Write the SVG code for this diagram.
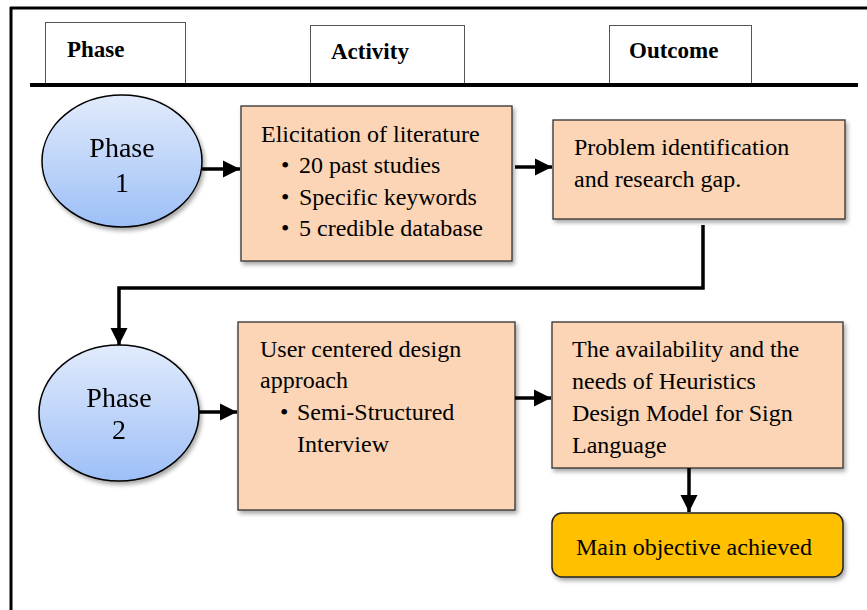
<svg xmlns="http://www.w3.org/2000/svg" width="867" height="610" viewBox="0 0 867 610">
<defs>
<linearGradient id="blue" x1="0" y1="0" x2="0" y2="1">
<stop offset="0" stop-color="#e1ebfc"/>
<stop offset="1" stop-color="#9dbff7"/>
</linearGradient>
<marker id="ah" viewBox="0 0 10 10" refX="10" refY="5" markerWidth="5" markerHeight="5" markerUnits="strokeWidth" orient="auto">
<path d="M0,0 L10,5 L0,10 z" fill="#000"/>
</marker>
<filter id="sh" x="-10%" y="-10%" width="125%" height="135%">
<feDropShadow dx="2" dy="3" stdDeviation="2" flood-color="#000" flood-opacity="0.35"/>
</filter>
</defs>
<style>
.t{font-family:"Liberation Serif","Times New Roman",serif;font-size:24px;fill:#000}
.h{font-family:"Liberation Serif","Times New Roman",serif;font-size:23px;font-weight:bold;fill:#000}
.ph{font-family:"Liberation Serif","Times New Roman",serif;font-size:28px;fill:#000;text-anchor:middle}
.hb{fill:#fff;stroke:#555;stroke-width:1}
.box{fill:#fbd5b5;stroke:#333;stroke-width:1.3}
.ell{fill:url(#blue);stroke:#000;stroke-width:1.5}
.con{fill:none;stroke:#000;stroke-width:3.5}
</style>
<rect width="867" height="610" fill="#fff"/>
<g id="frame">
<line x1="10" y1="8" x2="867" y2="8" stroke="#000" stroke-width="3"/>
<line x1="11" y1="7" x2="11" y2="610" stroke="#000" stroke-width="3"/>
</g>
<g id="header-phase">
<rect class="hb" x="45.5" y="22.5" width="140" height="62"/>
<text class="h" x="67" y="57">Phase</text>
</g>
<g id="header-activity">
<rect class="hb" x="310.5" y="25.5" width="154" height="59"/>
<text class="h" x="331" y="59">Activity</text>
</g>
<g id="header-outcome">
<rect class="hb" x="609.5" y="25.5" width="142" height="59"/>
<text class="h" x="629" y="58">Outcome</text>
</g>
<g id="header-line">
<line x1="30" y1="85" x2="858" y2="85" stroke="#000" stroke-width="4"/>
</g>
<g id="phase1" filter="url(#sh)">
<ellipse class="ell" cx="122" cy="161" rx="80" ry="66"/>
<text class="ph" x="122" y="157">Phase</text>
<text class="ph" x="122" y="192">1</text>
</g>
<g id="activity1">
<rect class="box" x="241" y="106" width="271" height="155" filter="url(#sh)"/>
<text class="t" x="261" y="142">Elicitation of literature</text>
<text class="t" x="281" y="173">•</text>
<text class="t" x="299" y="173">20 past studies</text>
<text class="t" x="281" y="205">•</text>
<text class="t" x="299" y="205">Specific keywords</text>
<text class="t" x="281" y="236">•</text>
<text class="t" x="299" y="236">5 credible database</text>
</g>
<g id="outcome1">
<rect class="box" x="553" y="120" width="292" height="99" filter="url(#sh)"/>
<text class="t" x="574" y="155">Problem identification</text>
<text class="t" x="574" y="187">and research gap.</text>
</g>
<g id="phase2" filter="url(#sh)">
<ellipse class="ell" cx="119" cy="413" rx="80" ry="68"/>
<text class="ph" x="119" y="407">Phase</text>
<text class="ph" x="119" y="439">2</text>
</g>
<g id="activity2">
<rect class="box" x="238" y="322" width="277" height="188" filter="url(#sh)"/>
<text class="t" x="260" y="357">User centered design</text>
<text class="t" x="260" y="388">approach</text>
<text class="t" x="280" y="420">•</text>
<text class="t" x="297" y="420">Semi-Structured</text>
<text class="t" x="297" y="452">Interview</text>
</g>
<g id="outcome2">
<rect class="box" x="552" y="322" width="291" height="146" filter="url(#sh)"/>
<text class="t" x="572" y="357">The availability and the</text>
<text class="t" x="572" y="389">needs of Heuristics</text>
<text class="t" x="572" y="421">Design Model for Sign</text>
<text class="t" x="572" y="453">Language</text>
</g>
<g id="objective">
<rect x="552" y="513" width="291" height="64" rx="10" fill="#ffc000" stroke="#222" stroke-width="1.5" filter="url(#sh)"/>
<text class="t" x="576" y="555">Main objective achieved</text>
</g>
<g id="connectors">
<path class="con" d="M202,169 H240" marker-end="url(#ah)"/>
<path class="con" d="M515,167 H552" marker-end="url(#ah)"/>
<path class="con" d="M703,225 V288 H119 V345" marker-end="url(#ah)"/>
<path class="con" d="M199,412 H237" marker-end="url(#ah)"/>
<path class="con" d="M515,398 H551" marker-end="url(#ah)"/>
<path class="con" d="M689,468 V512" marker-end="url(#ah)"/>
</g>
</svg>
